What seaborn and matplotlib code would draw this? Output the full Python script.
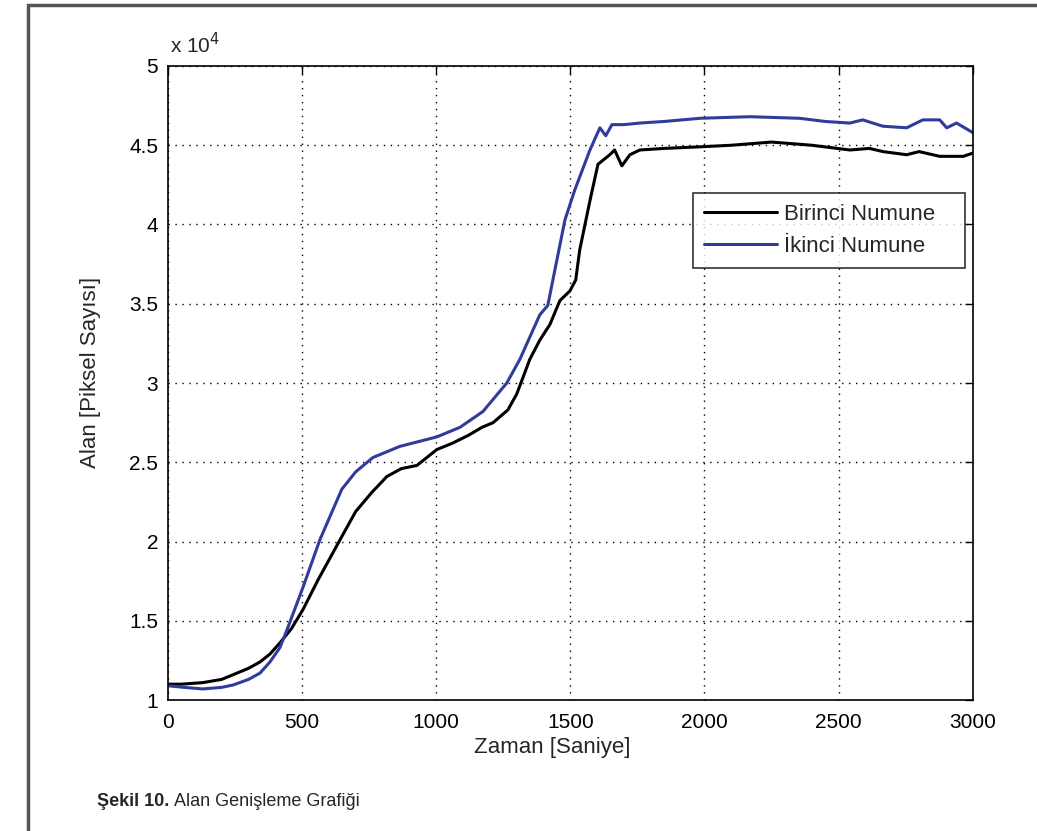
import numpy as np
import pandas as pd
import matplotlib
matplotlib.use("Agg")
import matplotlib.pyplot as plt
from matplotlib.patches import Rectangle
import seaborn as sns

# time [s] and area [x 1e4 pixels]
t_birinci = [0, 50, 130, 200, 243, 300, 343, 380, 417, 460,
             503, 560, 641, 700, 760, 816, 870, 928, 1002, 1060,
             1120, 1170, 1212, 1267, 1300, 1349, 1386, 1424, 1461, 1498,
             1520, 1535, 1573, 1603, 1647, 1665, 1692, 1722, 1759, 1850,
             1983, 2100, 2250, 2400, 2542, 2615, 2665, 2754, 2800, 2877,
             2965, 3000]
alan_birinci = [1.10, 1.10, 1.11, 1.13, 1.16, 1.20, 1.24, 1.29, 1.36, 1.45,
                1.57, 1.76, 2.01, 2.19, 2.31, 2.41, 2.46, 2.48, 2.58, 2.62,
                2.67, 2.72, 2.75, 2.83, 2.93, 3.15, 3.27, 3.37, 3.52, 3.58,
                3.65, 3.84, 4.15, 4.38, 4.44, 4.47, 4.37, 4.44, 4.47, 4.48,
                4.49, 4.50, 4.52, 4.50, 4.47, 4.48, 4.46, 4.44, 4.46, 4.43,
                4.43, 4.45]

t_ikinci = [0, 60, 130, 200, 243, 300, 343, 380, 417, 443,
            503, 566, 648, 700, 764, 864, 1002, 1088, 1174, 1263,
            1312, 1386, 1416, 1442, 1480, 1517, 1573, 1610, 1632, 1655,
            1700, 1759, 1850, 1983, 2169, 2355, 2450, 2542, 2590, 2665,
            2754, 2814, 2877, 2903, 2940, 3000]
alan_ikinci = [1.09, 1.08, 1.07, 1.08, 1.095, 1.13, 1.17, 1.24, 1.33, 1.44,
               1.71, 2.01, 2.33, 2.44, 2.53, 2.60, 2.66, 2.72, 2.82, 3.00,
               3.15, 3.43, 3.49, 3.71, 4.03, 4.22, 4.47, 4.61, 4.56, 4.63,
               4.63, 4.64, 4.65, 4.67, 4.68, 4.67, 4.65, 4.64, 4.66, 4.62,
               4.61, 4.66, 4.66, 4.61, 4.64, 4.58]

series_names = ["Birinci Numune", "İkinci Numune"]
series_colors = ["#000000", "#2f3c9c"]
x_ticks = [0, 500, 1000, 1500, 2000, 2500, 3000]
y_ticks = [1, 1.5, 2, 2.5, 3, 3.5, 4, 4.5, 5]
y_tick_labels = ["1", "1.5", "2", "2.5", "3", "3.5", "4", "4.5", "5"]

df = pd.concat([
    pd.DataFrame({"Zaman": t_birinci, "Alan": alan_birinci, "Numune": series_names[0]}),
    pd.DataFrame({"Zaman": t_ikinci, "Alan": alan_ikinci, "Numune": series_names[1]}),
], ignore_index=True)

sns.set_style("white")
plt.rcParams["font.family"] = ["Liberation Sans", "DejaVu Sans"]

fig = plt.figure(figsize=(10.37, 8.31), dpi=100)
ax = fig.add_axes([0.162, 0.1576, 0.776, 0.763])

sns.lineplot(data=df, x="Zaman", y="Alan", hue="Numune", hue_order=series_names,
             palette=series_colors, linewidth=2.2, sort=False, estimator=None, ax=ax)

ax.set_xlim(0, 3000)
ax.set_ylim(1, 5)
ax.set_xticks(x_ticks)
ax.set_yticks(y_ticks)
ax.set_yticklabels(y_tick_labels)
ax.grid(True, linestyle=(0, (1, 4)), color="black", linewidth=1.0)
ax.tick_params(direction="in", length=6, width=1, top=True, right=True,
               labelsize=15, colors="black")
ax.tick_params(axis="x", pad=9)
ax.tick_params(axis="y", pad=7)
for s in ax.spines.values():
    s.set_visible(True)
    s.set_color("black")
    s.set_linewidth(1.2)

ax.set_xlabel("Zaman [Saniye]", fontsize=16)
ax.xaxis.set_label_coords(0.478, -0.058)
ax.set_ylabel("Alan [Piksel Sayısı]", fontsize=16)
ax.yaxis.set_label_coords(-0.083, 0.516)
ax.text(0.003, 1.0205, r"x 10$^{4}$", transform=ax.transAxes, fontsize=15,
        ha="left", va="baseline")

handles, labels = ax.get_legend_handles_labels()
leg = ax.legend(handles, labels, loc="upper left",
                bbox_to_anchor=(0.652, 0.675, 0.338, 0.125), mode="expand",
                fontsize=16, handlelength=3.3, handletextpad=0.3,
                labelspacing=0.5, borderpad=0.5, frameon=True, fancybox=False,
                borderaxespad=0)
leg.get_frame().set_edgecolor("black")
leg.get_frame().set_linewidth(1.2)

# page frame and caption
fig.patches.append(Rectangle((28 / 1037, -0.1), 1.2, 1.1 - 5 / 831,
                             transform=fig.transFigure, fill=False,
                             edgecolor="#555555", linewidth=2.5))
cap1 = fig.text(97 / 1037, 1 - 802 / 831, "Şekil 10.", fontsize=13,
                fontweight="bold", va="center", ha="left")
fig.canvas.draw()
bb = cap1.get_window_extent()
fig.text(bb.x1 / fig.bbox.width + 0.004, 1 - 802 / 831, "Alan Genişleme Grafiği",
         fontsize=13, va="center", ha="left")

fig.savefig("out.png", dpi=100)
